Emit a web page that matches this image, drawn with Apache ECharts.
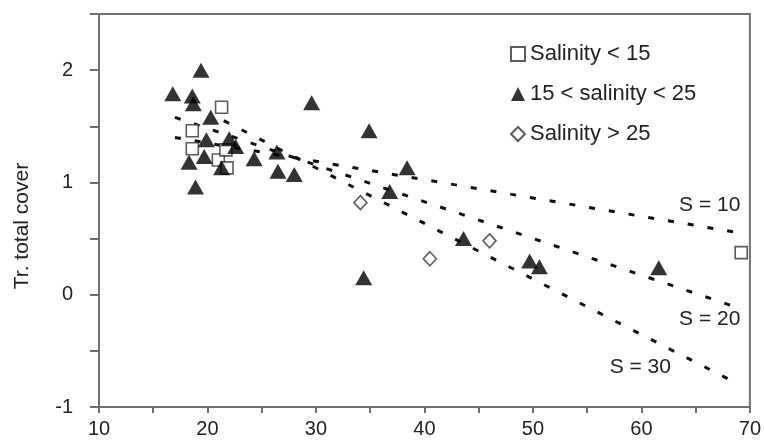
<!DOCTYPE html>
<html>
<head>
<meta charset="utf-8">
<script src="https://cdn.jsdelivr.net/npm/echarts@6/dist/echarts.min.js"></script>
<style>
html,body{margin:0;padding:0;background:#fff;}
#c{width:764px;height:441px;}
</style>
</head>
<body>
<div id="c"></div>
<script>
// ---- data ----
var xTicks = [10, 20, 30, 40, 50, 60, 70];
var yTicks = [-1, 0, 1, 2];
var lowSalinity = [[21.3,1.67],[18.6,1.46],[18.6,1.30],[21.0,1.20],[21.7,1.29],[21.8,1.13],[69.2,0.375]];
var midSalinity = [[16.8,1.79],[19.4,2.0],[18.6,1.77],[18.7,1.70],[20.3,1.58],[19.9,1.38],[22.0,1.39],[22.6,1.32],
  [19.7,1.23],[18.3,1.18],[21.3,1.13],[18.9,0.96],[24.3,1.21],[26.4,1.27],[26.5,1.10],[28.0,1.07],[29.6,1.71],
  [34.9,1.46],[38.4,1.13],[36.8,0.92],[34.4,0.15],[43.6,0.50],[49.7,0.30],[50.6,0.25],[61.6,0.24]];
var highSalinity = [[34.1,0.82],[40.5,0.32],[46.0,0.48]];
var lineS10 = [[17.0,1.40],[69.1,0.55]];
var lineS20 = [[17.0,1.58],[68.4,-0.10]];
var lineS30 = [[21.5,1.55],[68.6,-0.78]];
var lineLabels = ['S = 10','S = 20','S = 30'];
var labelPos = [[66.3,0.795],[66.3,-0.22],[59.9,-0.65]];
var seriesNames = ['Salinity < 15','15 < salinity < 25','Salinity > 25'];
var yTitle = 'Tr. total cover';

var FONT = '"Liberation Sans", Arial, sans-serif';
var AX = '#707070';
var TXT = '#222';

function dashLine(data, idx){
  return {
    type:'line', data:data, symbol:'none', silent:true, z:2,
    lineStyle:{color:'#111', width:3, type:[6,14]},
    markPoint:{
      symbol:'circle', symbolSize:0, silent:true,
      data:[{coord:labelPos[idx]}],
      label:{show:true, position:'inside', formatter:lineLabels[idx], color:TXT, fontSize:21, fontFamily:FONT}
    }
  };
}

var chart = echarts.init(document.getElementById('c'), null, {renderer:'canvas'});
chart.setOption({
  animation:false,
  backgroundColor:'#fff',
  grid:{left:99, right:9, top:14, bottom:34, show:true, borderColor:AX, borderWidth:2, backgroundColor:'transparent'},
  xAxis:{
    type:'value', min:10, max:70, interval:5,
    axisLine:{onZero:false, lineStyle:{color:AX, width:2}},
    axisTick:{show:true, inside:false, length:6, lineStyle:{color:AX, width:2}},
    splitLine:{show:false},
    axisLabel:{margin:12, color:TXT, fontSize:20, fontFamily:FONT,
      formatter:function(v){ return xTicks.indexOf(v) >= 0 ? String(v) : ''; }}
  },
  yAxis:{
    type:'value', min:-1, max:2.5, interval:0.5,
    axisLine:{onZero:false, lineStyle:{color:AX, width:2}},
    axisTick:{show:true, inside:false, length:9, lineStyle:{color:AX, width:2}},
    splitLine:{show:false},
    axisLabel:{margin:26, color:TXT, fontSize:20, fontFamily:FONT,
      formatter:function(v){ return yTicks.indexOf(v) >= 0 ? String(v) : ''; }}
  },
  legend:{
    orient:'vertical', left:505, top:38, itemGap:18, itemWidth:14, itemHeight:14,
    data:seriesNames,
    textStyle:{color:TXT, fontSize:22, fontFamily:FONT, lineHeight:22}
  },
  graphic:[{
    type:'text', x:22, y:226, rotation:Math.PI/2,
    style:{text:yTitle, fill:TXT, fontSize:21, fontFamily:FONT, textAlign:'center', textVerticalAlign:'middle'}
  }],
  series:[
    dashLine(lineS10,0), dashLine(lineS20,1), dashLine(lineS30,2),
    {name:seriesNames[0], type:'scatter', data:lowSalinity, symbol:'rect', symbolSize:12, z:4,
     itemStyle:{color:'#fff', borderColor:'#333', borderWidth:1.6}},
    {name:seriesNames[1], type:'scatter', data:midSalinity, symbol:'triangle', symbolSize:[17,15], z:5,
     itemStyle:{color:'#000', borderColor:'#000', borderWidth:0}},
    {name:seriesNames[2], type:'scatter', data:highSalinity, symbol:'diamond', symbolSize:[13,14], z:4,
     itemStyle:{color:'#fff', borderColor:'#333', borderWidth:1.6}}
  ]
});
</script>
</body>
</html>
